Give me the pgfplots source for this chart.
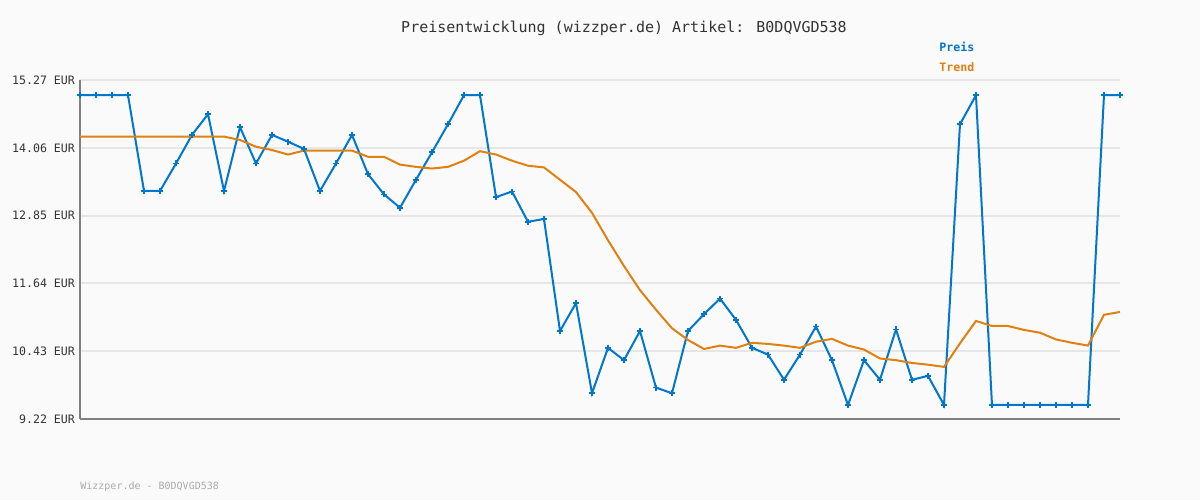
\documentclass[border=0pt]{standalone}
\usepackage{pgfplots}
\pgfplotsset{compat=1.18}
\usepackage{fontspec}
\setmainfont{DejaVu Sans Mono}
\definecolor{bgc}{RGB}{250,250,250}
\definecolor{preis}{RGB}{0,119,204}
\definecolor{trend}{RGB}{224,128,16}
\definecolor{gridc}{RGB}{230,230,230}
\definecolor{axc}{RGB}{128,128,128}
\definecolor{txt}{RGB}{51,51,51}
\begin{document}
\begin{tikzpicture}
\fill[bgc] (-40pt,-40.5pt) rectangle (560pt,209.5pt);
\begin{axis}[
  at={(0pt,0pt)}, anchor=south west,
  scale only axis, width=520pt, height=169.5pt,
  xmin=0, xmax=65, ymin=9.22, ymax=15.27,
  xtick=\empty,
  ytick={9.22,10.43,11.64,12.85,14.06,15.27},
  yticklabels={9.22 EUR,10.43 EUR,11.64 EUR,12.85 EUR,14.06 EUR,15.27 EUR},
  yticklabel style={font=\fontsize{5.8}{7}\selectfont, text=txt, xshift=1pt},
  major tick length=0pt,
  ymajorgrids, grid style={gridc, line width=1pt},
  axis x line*=bottom, axis y line*=left,
  axis line style={axc, line width=1.2pt, -},
  clip=false,
]
\addplot[preis, line width=1pt, mark=+, mark size=1.5pt, mark options={line width=0.8pt}] coordinates {
(0,15.00)(1,15.00)(2,15.00)(3,15.00)(4,13.29)(5,13.29)(6,13.78)(7,14.29)(8,14.66)(9,13.29)
(10,14.43)(11,13.78)(12,14.29)(13,14.17)(14,14.04)(15,13.29)(16,13.78)(17,14.29)(18,13.59)(19,13.23)
(20,12.99)(21,13.49)(22,13.98)(23,14.48)(24,15.00)(25,15.00)(26,13.18)(27,13.28)(28,12.74)(29,12.79)
(30,10.79)(31,11.29)(32,9.68)(33,10.49)(34,10.27)(35,10.79)(36,9.78)(37,9.68)(38,10.79)(39,11.09)
(40,11.37)(41,10.99)(42,10.49)(43,10.37)(44,9.92)(45,10.37)(46,10.87)(47,10.27)(48,9.47)(49,10.27)
(50,9.92)(51,10.82)(52,9.92)(53,9.99)(54,9.47)(55,14.48)(56,15.00)(57,9.47)(58,9.47)(59,9.47)
(60,9.47)(61,9.47)(62,9.47)(63,9.47)(64,15.00)(65,15.00)
};
\addplot[trend, line width=1pt, no marks] coordinates {
(0,14.26)(1,14.26)(2,14.26)(3,14.26)(4,14.26)(5,14.26)(6,14.26)(7,14.26)(8,14.26)(9,14.26)
(10,14.20)(11,14.08)(12,14.02)(13,13.94)(14,14.01)(15,14.01)(16,14.01)(17,14.01)(18,13.90)(19,13.90)
(20,13.76)(21,13.72)(22,13.69)(23,13.72)(24,13.83)(25,14.00)(26,13.94)(27,13.83)(28,13.74)(29,13.71)
(30,13.49)(31,13.27)(32,12.90)(33,12.41)(34,11.95)(35,11.52)(36,11.17)(37,10.84)(38,10.63)(39,10.47)
(40,10.53)(41,10.49)(42,10.58)(43,10.56)(44,10.53)(45,10.49)(46,10.60)(47,10.65)(48,10.53)(49,10.46)
(50,10.30)(51,10.27)(52,10.22)(53,10.19)(54,10.15)(55,10.57)(56,10.97)(57,10.88)(58,10.88)(59,10.81)
(60,10.76)(61,10.64)(62,10.58)(63,10.53)(64,11.08)(65,11.13)
};
\end{axis}
\node[text=txt, font=\fontsize{7.5}{9}\selectfont] at (272pt,195.5pt) {Preisentwicklung (wizzper.de) Artikel: B0DQVGD538};
\node[anchor=west, text=preis, font=\bfseries\fontsize{5.8}{7}\selectfont, inner sep=0pt] at (429.5pt,186pt) {Preis};
\node[anchor=west, text=trend, font=\bfseries\fontsize{5.8}{7}\selectfont, inner sep=0pt] at (429.5pt,176pt) {Trend};
\node[anchor=west, text={rgb,255:red,170;green,170;blue,170}, font=\fontsize{5.0}{6}\selectfont, inner sep=0pt] at (0pt,-34pt) {Wizzper.de - B0DQVGD538};
\end{tikzpicture}
\end{document}
